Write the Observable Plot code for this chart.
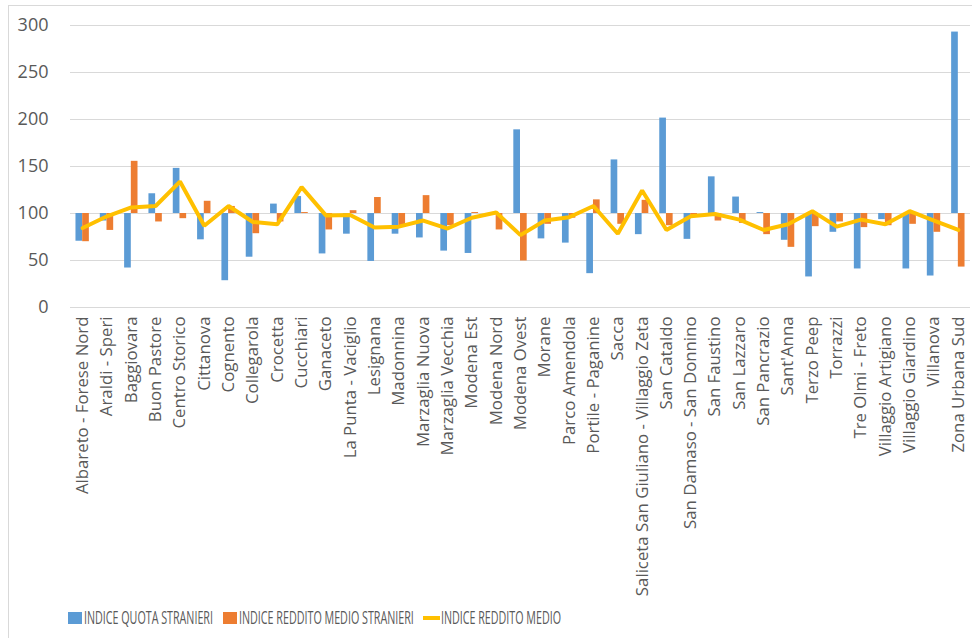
<!DOCTYPE html>
<html>
<head>
<meta charset="utf-8">
<script src="https://cdn.jsdelivr.net/npm/d3@7"></script>
<script src="https://cdn.jsdelivr.net/npm/@observablehq/plot@0.6"></script>
<style>
  html, body { margin: 0; padding: 0; background: #fff; }
  #wrap { position: relative; width: 972px; height: 638px; overflow: hidden; }
  #frame { position: absolute; left: 8px; top: 5px; width: 1000px; height: 700px; border: 1px solid #d9d9d9; box-sizing: border-box; }
  #chart { position: absolute; left: 0; top: 0; }
  #legend { position: absolute; left: 0; top: 600px; }
</style>
</head>
<body>
<div id="wrap">
  <div id="frame"></div>
  <div id="chart"></div>
  <svg id="legend" width="972" height="38"></svg>
</div>
<script>
const categories = [
  "Albareto - Forese Nord", "Araldi - Speri", "Baggiovara", "Buon Pastore", "Centro Storico",
  "Cittanova", "Cognento", "Collegarola", "Crocetta", "Cucchiari", "Ganaceto",
  "La Punta - Vaciglio", "Lesignana", "Madonnina", "Marzaglia Nuova", "Marzaglia Vecchia",
  "Modena Est", "Modena Nord", "Modena Ovest", "Morane", "Parco Amendola",
  "Portile - Paganine", "Sacca", "Saliceta San Giuliano - Villaggio Zeta", "San Cataldo",
  "San Damaso - San Donnino", "San Faustino", "San Lazzaro", "San Pancrazio", "Sant'Anna",
  "Terzo Peep", "Torrazzi", "Tre Olmi - Freto", "Villaggio Artigiano", "Villaggio Giardino",
  "Villanova", "Zona Urbana Sud"
];
const indiceQuotaStranieri = [
  70.5, 92, 42, 121, 148, 72, 28.5, 53.5, 110, 118, 57,
  78, 49, 78, 74, 60, 57.5, 99.5, 189, 73, 68.5,
  36, 157, 77.5, 201.5, 72.5, 139, 117.5, 101, 71.5,
  32.5, 80, 41, 93.5, 41, 33.5, 293
];
const indiceRedditoMedioStranieri = [
  70, 82, 155.5, 91, 94.5, 113, 107.5, 78.5, 91, 101, 82.5,
  103, 117, 85.5, 119, 87, 101, 82.5, 49.5, 88.5, 95,
  114.5, 88.5, 114, 87, 98, 92, 89.5, 77.5, 64,
  86, 91, 85, 87, 88.5, 80, 43
];
const indiceRedditoMedio = [
  84.5, 97, 106.5, 108, 134, 87, 108, 91, 88.5, 128, 98,
  98.5, 85, 86, 92.5, 84, 95.5, 101, 77, 92.5, 96,
  108, 78.5, 124.5, 82.5, 97, 99.5, 93.5, 82.5, 88.5,
  102.5, 86, 93.5, 88.5, 102.5, 92.5, 82.5
];
const yTicks = [0, 50, 100, 150, 200, 250, 300];
const baseline = 100;

const seriesNames = ["INDICE QUOTA STRANIERI", "INDICE REDDITO MEDIO STRANIERI", "INDICE REDDITO MEDIO"];
const colors = ["#5B9BD5", "#ED7D31", "#FFC000"];

const data = categories.map((c, i) => ({
  cat: c,
  quota: indiceQuotaStranieri[i],
  redStr: indiceRedditoMedioStranieri[i],
  red: indiceRedditoMedio[i]
}));

const half = 6.7;

const chart = Plot.plot({
  width: 972,
  height: 600,
  marginLeft: 70,
  marginRight: 2,
  marginTop: 25,
  marginBottom: 293,
  style: { fontFamily: "'Open Sans', sans-serif", color: "#595959", background: "transparent" },
  x: { domain: categories, paddingInner: 0.45, paddingOuter: 0.225, round: false, label: null },
  y: { domain: [0, 300], label: null },
  marks: [
    Plot.gridY(yTicks, { stroke: "#d9d9d9", strokeOpacity: 1, strokeWidth: 1 }),
    Plot.barY(data, { x: "cat", y1: baseline, y2: "quota", fill: colors[0], insetRight: half }),
    Plot.barY(data, { x: "cat", y1: baseline, y2: "redStr", fill: colors[1], insetLeft: half }),
    Plot.lineY(data, { x: "cat", y: "red", stroke: colors[2], strokeWidth: 4, strokeLinejoin: "miter" }),
    Plot.axisY({ ticks: yTicks, tickSize: 0, tickPadding: 22, fontSize: 18, fill: "#595959" }),
    Plot.axisX({ tickSize: 0, tickPadding: 9, tickRotate: -90, fontSize: 16.8, fill: "#595959" })
  ]
});
document.getElementById("chart").appendChild(chart);

// Legend
const lg = d3.select("#legend");
const items = [
  { name: seriesNames[0], color: colors[0], kind: "rect", sx: 68, tx: 84, tw: 129 },
  { name: seriesNames[1], color: colors[1], kind: "rect", sx: 223, tx: 239, tw: 175 },
  { name: seriesNames[2], color: colors[2], kind: "line", sx: 423, tx: 441, tw: 120 }
];
items.forEach(it => {
  if (it.kind === "rect") {
    lg.append("rect").attr("x", it.sx).attr("y", 12).attr("width", 14).attr("height", 12).attr("fill", it.color);
  } else {
    lg.append("line").attr("x1", it.sx).attr("x2", it.sx + 17).attr("y1", 18).attr("y2", 18)
      .attr("stroke", it.color).attr("stroke-width", 4);
  }
  const t = lg.append("text")
    .attr("font-family", "'Open Sans', sans-serif")
    .attr("font-size", 18.5).attr("fill", "#595959")
    .text(it.name);
  const natural = t.node().getComputedTextLength();
  const s = it.tw / natural;
  t.attr("transform", `translate(${it.tx},24) scale(${s},1)`);
});
</script>
</body>
</html>
